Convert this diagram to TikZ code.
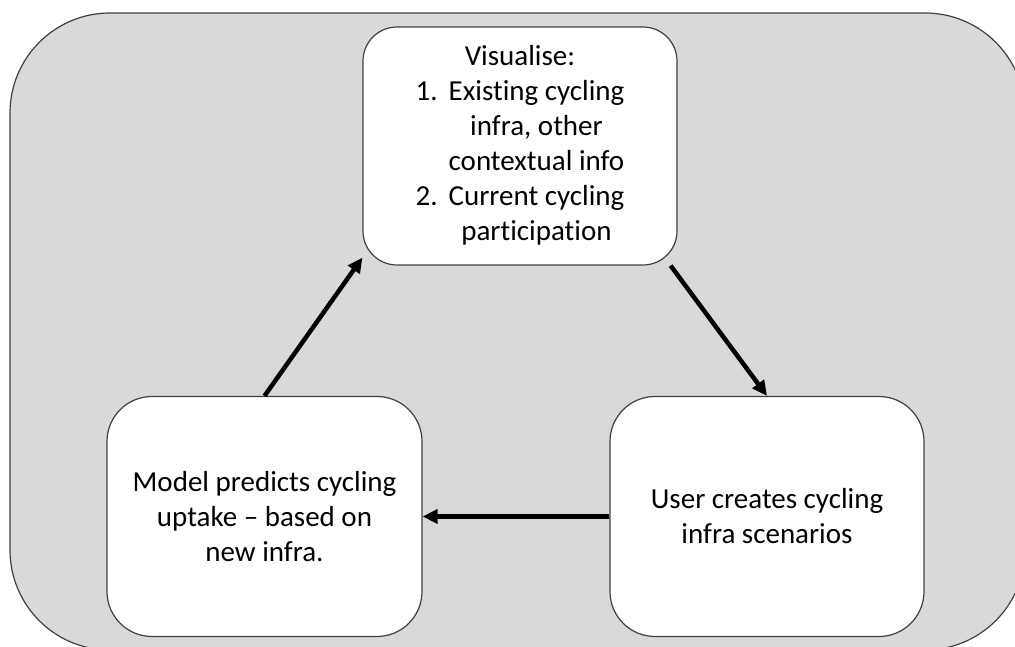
\documentclass[tikz,border=0pt]{standalone}
\usepackage{fontspec}
\setmainfont{Carlito}[Ligatures=NoCommon]
\usetikzlibrary{arrows.meta}
\definecolor{panelgray}{HTML}{D9D9D9}
\definecolor{edgegray}{HTML}{404040}

\begin{document}
\begin{tikzpicture}[x=1pt,y=1pt,
	>={Triangle[length=15pt,width=14pt]},
	every node/.style={font=\fontsize{29}{35}\selectfont},
	stagebox/.style={draw=edgegray,line width=1.2pt,fill=white,rounded corners=45pt,
		minimum width=315pt,minimum height=240pt,inner sep=0pt,align=center},
	flowarrow/.style={->,line width=4.5pt}]
	
	\useasboundingbox (0,0) rectangle (1015,646);
	\draw[edgegray,fill=panelgray,line width=1.2pt,rounded corners=100pt] (10,-4) rectangle (1025,633);
	
	\node[stagebox,rounded corners=34pt,minimum width=314pt,minimum height=238pt](visual) at (520,500)
	{\begin{tabular}{@{}r@{\hspace{11pt}}c@{}}
		\multicolumn{2}{c}{Visualise:}\\
		1. & Existing cycling\\
		   & infra, other\\
		   & contextual info\\
		2. & Current cycling\\
		   & participation
	\end{tabular}};
	\node[stagebox](model) at (264.5,129.5) {Model predicts cycling\\uptake -- based on\\new infra.};
	\node[stagebox,minimum width=314pt](user) at (767,129.5) {User creates cycling\\infra scenarios};
	
	\draw[flowarrow] (model.north) -- ([yshift=8pt]visual.south west);
	\draw[flowarrow] ([xshift=-7pt]visual.south east) -- (user.north);
	\draw[flowarrow] (user.west) -- (model.east);
\end{tikzpicture}
\end{document}
